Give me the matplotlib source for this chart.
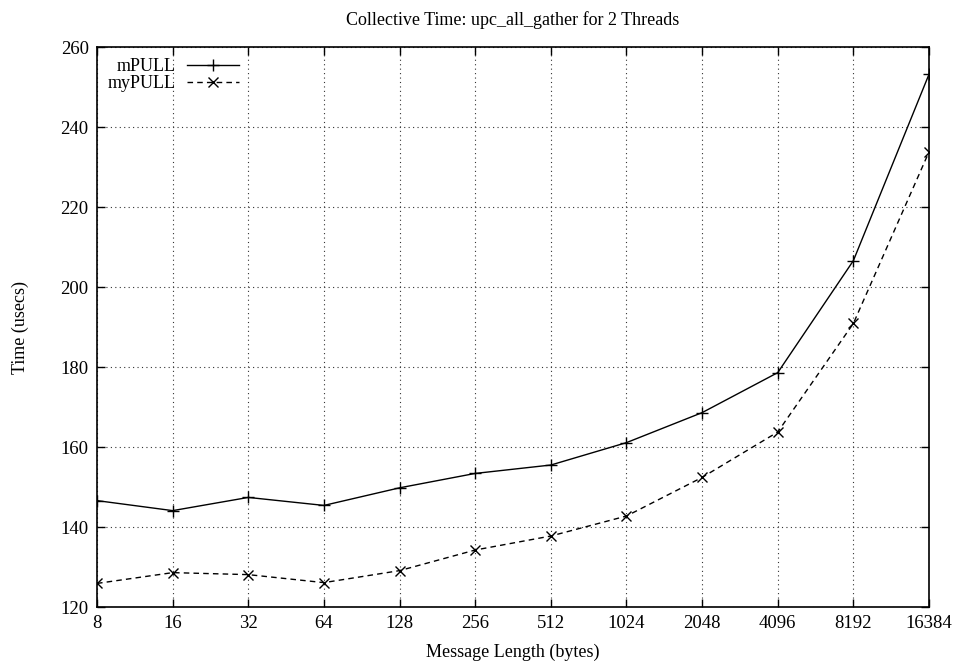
import matplotlib
matplotlib.use("Agg")
import matplotlib.pyplot as plt

plt.rcParams['font.family'] = ['Liberation Serif', 'DejaVu Serif']

sizes = ['8', '16', '32', '64', '128', '256', '512', '1024', '2048', '4096', '8192', '16384']
mpull = [146.6, 144.1, 147.4, 145.4, 149.8, 153.4, 155.5, 161.1, 168.6, 178.6, 206.6, 253.2]
mypull = [125.9, 128.6, 128.1, 126.1, 129.1, 134.25, 137.75, 142.75, 152.4, 163.75, 190.9, 233.8]

fig = plt.figure(figsize=(9.55, 6.64), dpi=100)
ax = fig.add_axes([0.1016, 0.0858, 0.8712, 0.8434])

x = list(range(len(sizes)))
ax.plot(x, mpull, color='black', linewidth=1, marker='+', markersize=9,
        markeredgewidth=1, label='mPULL')
ax.plot(x, mypull, color='black', linewidth=1, linestyle=(0, (4, 3)), marker='x',
        markersize=7, markeredgewidth=1, label='myPULL')

ax.set_xlim(0, len(sizes) - 1)
ax.set_ylim(120, 260)
ax.set_xticks(x)
ax.set_xticklabels(sizes)
ax.set_yticks(range(120, 261, 20))
ax.tick_params(direction='in', top=True, right=True, length=6, width=1,
               labelsize=13.5, pad=6)
ax.grid(True, linestyle=(0, (1, 3)), color='#333333', linewidth=0.8)
for s in ax.spines.values():
    s.set_linewidth(1.2)

ax.set_title('Collective Time: upc_all_gather for 2 Threads', fontsize=13, pad=16)
ax.set_xlabel('Message Length (bytes)', fontsize=13, labelpad=8)
ax.set_ylabel('Time (usecs)', fontsize=13, labelpad=23)

leg = ax.legend(loc='upper left', markerfirst=False, frameon=False, fontsize=13,
                handlelength=2.9, borderaxespad=0.2, labelspacing=0.0,
                handletextpad=0.6)

fig.savefig('out.png', dpi=100)
